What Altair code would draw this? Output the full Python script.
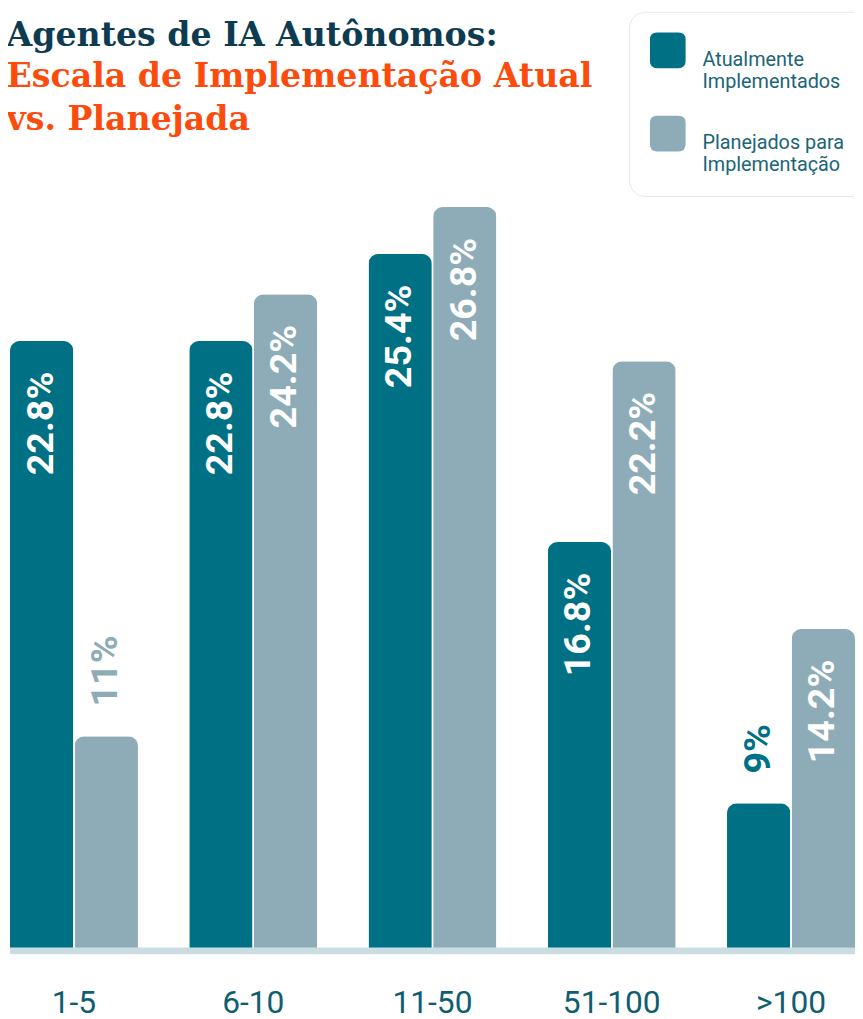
import altair as alt
import pandas as pd

categories = ["1-5", "6-10", "11-50", "51-100", ">100"]
series = ["Atualmente\nImplementados", "Planejados para\nImplementação"]
current = [22.8, 22.8, 25.4, 16.8, 9]
planned = [11, 24.2, 26.8, 22.2, 14.2]
series_colors = ["#007085", "#8eacb7"]

TITLE = "Agentes de IA Autônomos:"
SUBTITLE = ["Escala de Implementação Atual", "vs. Planejada"]

rows = []
for i, c in enumerate(categories):
    rows.append({"cat": c, "series": series[0], "value": current[i]})
    rows.append({"cat": c, "series": series[1], "value": planned[i]})
df = pd.DataFrame(rows)
df["label"] = df["value"].map(lambda v: f"{v:g}%")

Y_MIN, Y_MAX = 4.68, 27.22
W, H = 853, 762

yscale = alt.Scale(domain=[Y_MIN, Y_MAX], zero=False, clamp=True, nice=False)
xscale = alt.Scale(paddingInner=0.286, paddingOuter=0)
off_scale = alt.Scale(domain=series, paddingInner=0.02)
color_scale = alt.Scale(domain=series, range=series_colors)

ROUNDED = ("M -1 -0.6 Q -1 -1 -0.6 -1 L 0.6 -1 Q 1 -1 1 -0.6 L 1 0.6 "
           "Q 1 1 0.6 1 L -0.6 1 Q -1 1 -1 0.6 Z")

base = alt.Chart(df)

bars = base.mark_bar(cornerRadiusTopLeft=10, cornerRadiusTopRight=10).encode(
    x=alt.X("cat:N", sort=categories, scale=xscale, title=None,
            axis=alt.Axis(labelAngle=0, domain=False, ticks=False, tickSize=0,
                          labelPadding=40, labelFont="Roboto", labelFontSize=32,
                          labelColor="#0e5e70", grid=False)),
    xOffset=alt.XOffset("series:N", sort=series, scale=off_scale),
    y=alt.Y("value:Q", scale=yscale, axis=None),
    color=alt.Color("series:N", scale=color_scale, sort=series,
                    legend=alt.Legend(
                        orient="none", legendX=625, legendY=-183, title=None,
                        direction="vertical", fillColor="white",
                        strokeColor="#e1e9ed", cornerRadius=16,
                        padding=21, symbolType=ROUNDED, symbolSize=1296,
                        symbolStrokeWidth=0, symbolOpacity=1,
                        labelFont="Roboto", labelFontSize=20,
                        labelColor="#1b6476", labelLimit=300,
                        labelExpr="split(datum.label, '\\n')",
                        labelBaseline="top",
                        labelOffset=17, rowPadding=24)),
)

inside = base.transform_filter("datum.value >= 12").mark_text(
    angle=270, align="right", baseline="middle", dx=-31,
    font="Roboto", fontSize=38, fontWeight="bold", color="white"
).encode(
    x=alt.X("cat:N", sort=categories, scale=xscale),
    xOffset=alt.XOffset("series:N", sort=series, scale=off_scale),
    y=alt.Y("value:Q", scale=yscale),
    text="label:N",
)

outside = base.transform_filter("datum.value < 12").mark_text(
    angle=270, align="left", baseline="middle", dx=30,
    font="Roboto", fontSize=38, fontWeight="bold"
).encode(
    x=alt.X("cat:N", sort=categories, scale=xscale),
    xOffset=alt.XOffset("series:N", sort=series, scale=off_scale),
    y=alt.Y("value:Q", scale=yscale),
    text="label:N",
    color=alt.Color("series:N", scale=color_scale, sort=series, legend=None),
)

rule = alt.Chart(pd.DataFrame({"y": [Y_MIN]})).mark_rule(
    color="#c9dde3", strokeWidth=7, yOffset=3
).encode(y=alt.Y("y:Q", scale=yscale))

chart = alt.layer(bars, inside, outside, rule).properties(
    width=W, height=H,
    title=alt.TitleParams(
        text=TITLE, subtitle=SUBTITLE, anchor="start", dx=0,
        font="DejaVu Serif", fontSize=33.5, fontWeight="bold", color="#0d3b52",
        subtitleFont="DejaVu Serif", subtitleFontSize=33.5,
        subtitleFontWeight="bold", subtitleColor="#fc4c0d",
        lineHeight=44, subtitleLineHeight=43, subtitlePadding=8, offset=-127),
    autosize=alt.AutoSizeParams(type="none"),
    padding={"left": 2, "top": 182, "right": 0, "bottom": 70},
).configure(background="white").configure_view(stroke=None)

chart.save("out.html", embed_options={"renderer": "svg", "actions": False})
